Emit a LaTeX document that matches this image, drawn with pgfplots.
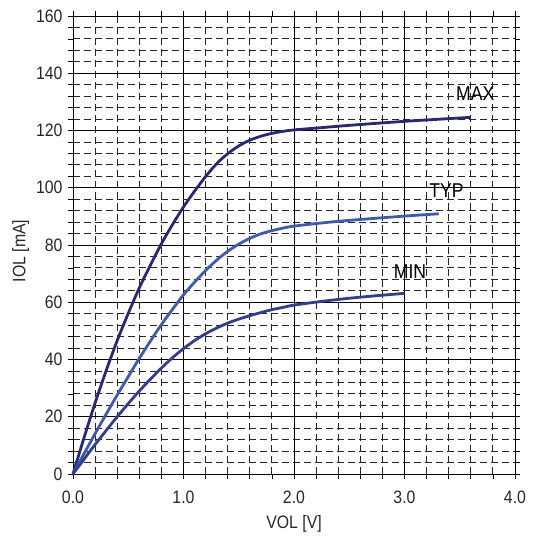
\documentclass[border=0pt]{standalone}
\usepackage{pgfplots}
\pgfplotsset{compat=1.18}
\usepackage{fontspec}
\setmainfont{Liberation Sans}[FakeStretch=0.88]
\definecolor{cmax}{HTML}{28287A}
\definecolor{ctyp}{HTML}{3C5AB4}
\definecolor{cmin}{HTML}{323C96}
\begin{document}
\begin{tikzpicture}
\useasboundingbox (-73bp,-66bp) rectangle (461bp,474bp);
\begin{axis}[
  at={(0,0)}, anchor=south west,
  scale only axis, width=442bp, height=458bp,
  xmin=0, xmax=4, ymin=0, ymax=160,
  xtick={0,1,2,3,4}, ytick={0,20,...,160},
  minor x tick num=4, minor y tick num=4,
  tick align=outside, major tick length=5bp, minor tick length=5bp,
  tick style={black, line width=0.7bp},
  grid=both,
  major grid style={black, line width=0.9bp},
  minor grid style={black!85, line width=0.8bp, dash pattern=on 7bp off 4bp},
  axis line style={black, line width=0.9bp},
  /pgf/number format/assume math mode=true,
  xticklabel style={/pgf/number format/fixed, /pgf/number format/precision=1, /pgf/number format/fixed zerofill},
  ticklabel style={font=\fontsize{18bp}{20bp}\selectfont, text=black!85},
  xticklabel style={yshift=-8bp},
  yticklabel style={xshift=-2bp},
  xlabel={VOL [V]}, ylabel={IOL [mA]},
  label style={font=\fontsize{18bp}{20bp}\selectfont, text=black!85},
  xlabel style={yshift=-5bp},
  ylabel style={xshift=-6bp},
  clip=false,
]
\addplot[cmax, line width=2.8bp, smooth] coordinates {
(0,0) (0.1,12.7) (0.2,24.8) (0.3,36.1) (0.4,46.6) (0.5,56.1) (0.6,65.0) (0.7,72.9) (0.8,80.4) (0.9,87.1) (1.0,93.3) (1.1,98.8) (1.2,103.9) (1.3,108.4) (1.4,111.9) (1.5,114.6) (1.6,116.6) (1.7,118.0) (1.8,119.0) (1.9,119.7) (2.0,120.2) (2.25,121.0) (2.5,121.8) (3.0,123.2) (3.6,124.6)};
\addplot[ctyp, line width=2.8bp, smooth] coordinates {
(0,0) (0.1,7.1) (0.2,14.1) (0.3,20.9) (0.4,27.6) (0.5,34.0) (0.6,40.4) (0.7,46.4) (0.8,52.2) (0.9,57.5) (1.0,62.6) (1.1,67.0) (1.2,71.1) (1.3,74.7) (1.4,77.8) (1.5,80.3) (1.6,82.3) (1.7,83.9) (1.8,85.0) (1.9,85.9) (2.0,86.6) (2.25,87.7) (2.5,88.6) (3.0,90.1) (3.31,90.9)};
\addplot[cmin, line width=2.8bp, smooth] coordinates {
(0,0) (0.1,5.2) (0.2,10.3) (0.3,15.2) (0.4,20.0) (0.5,24.6) (0.6,29.0) (0.7,33.1) (0.8,37.0) (0.9,40.6) (1.0,43.8) (1.1,46.6) (1.2,49.0) (1.3,51.0) (1.4,52.7) (1.5,54.1) (1.6,55.3) (1.7,56.4) (1.8,57.4) (1.9,58.2) (2.0,59.0) (2.25,60.3) (2.5,61.4) (2.75,62.3) (3.0,63.1)};
\node[font=\fontsize{20bp}{22bp}\selectfont, text=black] at (axis cs:3.64,133) {MAX};
\node[font=\fontsize{20bp}{22bp}\selectfont, text=black] at (axis cs:3.38,99) {TYP};
\node[font=\fontsize{20bp}{22bp}\selectfont, text=black] at (axis cs:3.05,70.6) {MIN};
\end{axis}
\end{tikzpicture}
\end{document}
